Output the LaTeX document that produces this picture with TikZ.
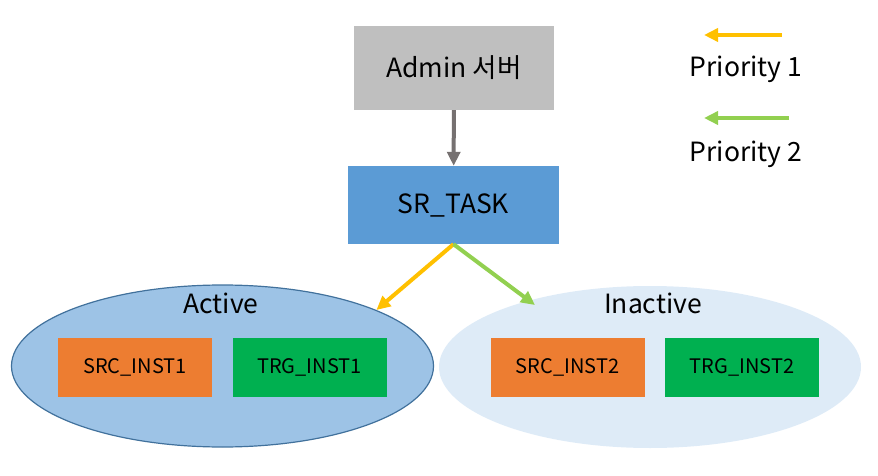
\documentclass[tikz,border=0pt]{standalone}
\usepackage{fontspec}
\setmainfont{Noto Sans CJK KR}
\usepackage{tikz}
\usetikzlibrary{arrows.meta,positioning,shapes.geometric}
\definecolor{boxgray}{HTML}{BFBFBF}
\definecolor{taskblue}{HTML}{5B9BD5}
\definecolor{srcorange}{HTML}{ED7D31}
\definecolor{trggreen}{HTML}{00B050}
\definecolor{prioyellow}{HTML}{FFC000}
\definecolor{priogreen}{HTML}{92D050}
\definecolor{actfill}{HTML}{9DC3E6}
\definecolor{actline}{HTML}{41719C}
\definecolor{inactfill}{HTML}{DEEBF7}
\definecolor{arrgray}{HTML}{767171}
\tikzset{
  blk/.style={fill=#1, text=black, inner sep=0pt, align=center},
  inst/.style={blk=#1, minimum width=154pt, minimum height=59pt, font=\fontsize{20}{24}\selectfont},
  zone/.style={ellipse, fill=#1, inner sep=0pt, minimum width=422pt, minimum height=162pt},
  link/.style={-{Triangle[length=14pt,width=13pt]}, line width=4pt, draw=#1},
  lbl/.style={font=\fontsize{26.5}{31}\selectfont, text=black}
}

\begin{document}
\begin{tikzpicture}[x=1pt, y=-1pt]
  \useasboundingbox (0,0) rectangle (878,476);
  % zones
  \node[zone=actfill, draw=actline, line width=1.2pt] (active) at (222.5,366) {};
  \node[zone=inactfill] (inactive) at (650,367) {};
  \node[lbl] (actlbl) at (221,303) {Active};
  \node[lbl] (inactlbl) at (653,303) {Inactive};
  % instances
  \node[inst=srcorange] (src1) at (135,367.5) {SRC\_INST1};
  \node[inst=trggreen] (trg1) at (309.5,367.5) {TRG\_INST1};
  \node[inst=srcorange] (src2) at (567.5,367.5) {SRC\_INST2};
  \node[inst=trggreen] (trg2) at (742,367.5) {TRG\_INST2};
  % admin and task
  \node[blk=boxgray, minimum width=200pt, minimum height=84pt, lbl] (admin) at (454,68) {Admin 서버};
  \node[blk=taskblue, minimum width=211pt, minimum height=78pt, lbl] (task) at (453.5,205) {SR\_TASK};
  \coordinate (inacttip) at (535,305);
  \draw[link=arrgray] (admin) -- (task);
  \draw[link=prioyellow] (task.south) -- (active.20);
  \draw[link=priogreen] (task.south) -- (inacttip);
  % legend
  \node[lbl] (prio1) at (746,69) {Priority 1};
  \node[lbl] (prio2) at (746,154) {Priority 2};
  \coordinate (p1r) at (782,35);
  \coordinate (p1l) at (704,35);
  \coordinate (p2r) at (789,118);
  \coordinate (p2l) at (704,118);
  \draw[link=prioyellow] (p1r) -- (p1l);
  \draw[link=priogreen] (p2r) -- (p2l);
\end{tikzpicture}
\end{document}
